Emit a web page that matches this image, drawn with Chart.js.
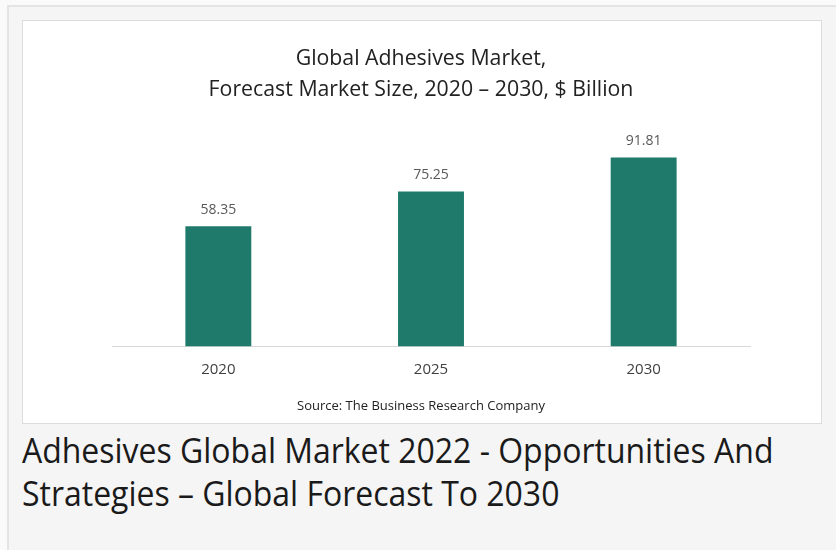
<!DOCTYPE html>
<html>
<head>
<meta charset="utf-8">
<script src="https://cdn.jsdelivr.net/npm/chart.js@4.4.1/dist/chart.umd.min.js"></script>
<style>
  body { margin:0; background:#fafafa; width:836px; height:550px; overflow:hidden; position:relative; font-family:"Open Sans", sans-serif; }
  .frame { position:absolute; left:7px; top:5px; width:840px; height:560px; background:#f5f5f5; border:2px solid #e4e4e4; }
  .card { position:absolute; left:22px; top:20px; width:798px; height:402px; background:#fff; border:1px solid #dcdcdc; }
  .caption { position:absolute; left:22px; top:429px; font-size:34px; line-height:43px; color:#1a1a1a; transform-origin:0 0; transform:scaleX(0.94); white-space:nowrap; }
</style>
</head>
<body>
<div class="frame"></div>
<div class="card"><canvas id="bar1"></canvas></div>
<div class="caption">Adhesives Global Market 2022 - Opportunities And<br>Strategies – Global Forecast To 2030</div>
<script>
var years = ['2020', '2025', '2030'];
var market_size = [58.35, 75.25, 91.81];
var chart_title = ['Global Adhesives Market,', 'Forecast Market Size, 2020 – 2030, $ Billion'];
var source_text = 'Source: The Business Research Company';

var value_labels = {
    id: 'value_labels',
    afterDatasetsDraw: function(chart){
        var ctx = chart.ctx;
        var meta = chart.getDatasetMeta(0);
        ctx.save();
        ctx.font = '14px "Open Sans"';
        ctx.fillStyle = '#595959';
        ctx.textAlign = 'center';
        ctx.textBaseline = 'middle';
        meta.data.forEach(function(bar, i){
            ctx.fillText(market_size[i].toFixed(2), bar.x, bar.y - 16);
        });
        ctx.restore();
    }
};

var ctx = document.getElementById('bar1');
ctx.width = 798; ctx.height = 402;
new Chart(ctx, {
    type: 'bar',
    data: {
        labels: years,
        datasets: [{
            data: market_size,
            backgroundColor: '#1f7a6b',
            barPercentage: 1,
            categoryPercentage: 0.31
        }]
    },
    options: {
        responsive: false,
        animation: false,
        layout: { padding: { left: 69, right: 71, top: 10, bottom: 9 } },
        plugins: {
            legend: { display: false },
            tooltip: { enabled: false },
            title: {
                display: true,
                text: chart_title,
                color: '#222',
                font: { family: '"Open Sans"', size: 21.3, weight: 'normal', lineHeight: 1.48 },
                padding: { top: 12, bottom: 18 }
            },
            subtitle: {
                display: true,
                position: 'bottom',
                text: source_text,
                color: '#222',
                font: { family: '"Open Sans"', size: 13 },
                padding: { top: 14, bottom: 0 }
            }
        },
        scales: {
            x: {
                grid: { display: false },
                border: { color: '#d9d9d9', width: 1 },
                ticks: { color: '#404040', font: { family: '"Open Sans"', size: 15 }, padding: 6 }
            },
            y: {
                min: 0,
                max: 108,
                grid: { display: false },
                border: { display: false },
                ticks: { display: false },
                afterFit: function(scale){ scale.width = 20; }
            }
        }
    },
    plugins: [value_labels]
});
</script>
</body>
</html>
